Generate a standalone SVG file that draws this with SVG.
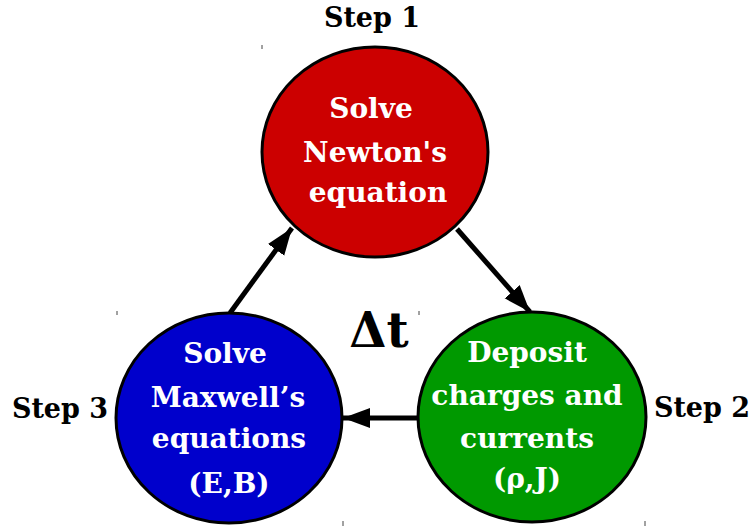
<svg xmlns="http://www.w3.org/2000/svg" width="753" height="529" viewBox="0 0 753 529">
<style>
.node{stroke:#000;stroke-width:3}
.in{font-family:"DejaVu Serif","Liberation Serif",serif;font-weight:bold;font-size:28px;fill:#fff;text-anchor:middle}
.lbl{font-family:"DejaVu Serif","Liberation Serif",serif;font-weight:bold;font-size:27px;fill:#000;text-anchor:middle}
.con{stroke:#000;stroke-width:5;fill:none}
.tick{stroke:#444;stroke-width:1}
</style>
<defs>
<marker id="ah" markerUnits="userSpaceOnUse" markerWidth="30" markerHeight="22" refX="27" refY="10" orient="auto">
<path d="M0,0 L27,10 L0,20 Z" fill="#000"/>
</marker>
</defs>
<rect width="753" height="529" fill="#fff"/>
<g id="connectors">
<line class="con" x1="230" y1="313" x2="292" y2="228" marker-end="url(#ah)"/>
<line class="con" x1="457" y1="229" x2="530" y2="312" marker-end="url(#ah)"/>
<line class="con" x1="420" y1="418" x2="343" y2="418" marker-end="url(#ah)"/>
</g>
<g id="step1">
<ellipse class="node" cx="375" cy="152" rx="113" ry="105" fill="#cc0000"/>
<text class="in" x="371" y="118">Solve</text>
<text class="in" x="375" y="162">Newton's</text>
<text class="in" x="378" y="202">equation</text>
<text class="lbl" x="372" y="27">Step 1</text>
</g>
<g id="step2">
<ellipse class="node" cx="532" cy="417" rx="114" ry="105" fill="#009900"/>
<text class="in" x="527" y="362">Deposit</text>
<text class="in" x="527" y="405">charges and</text>
<text class="in" x="527" y="448">currents</text>
<text class="in" x="527" y="488">(ρ,J)</text>
<text class="lbl" x="702" y="417">Step 2</text>
</g>
<g id="step3">
<ellipse class="node" cx="229" cy="418" rx="113" ry="105" fill="#0000cc"/>
<text class="in" x="225" y="363">Solve</text>
<text class="in" x="228" y="407">Maxwell’s</text>
<text class="in" x="229" y="448">equations</text>
<text class="in" x="229" y="493">(E,B)</text>
<text class="lbl" x="60" y="418">Step 3</text>
</g>
<g id="dt">
<text x="379" y="347" font-family="DejaVu Serif, Liberation Serif, serif" font-weight="bold" font-size="48" text-anchor="middle">Δt</text>
</g>
<g id="ticks">
<line class="tick" x1="262" y1="45" x2="262" y2="49"/>
<line class="tick" x1="117" y1="311" x2="117" y2="315"/>
<line class="tick" x1="343" y1="521" x2="343" y2="526"/>
<line class="tick" x1="419" y1="311" x2="419" y2="315"/>
<line class="tick" x1="645" y1="521" x2="645" y2="526"/>
</g>
</svg>
